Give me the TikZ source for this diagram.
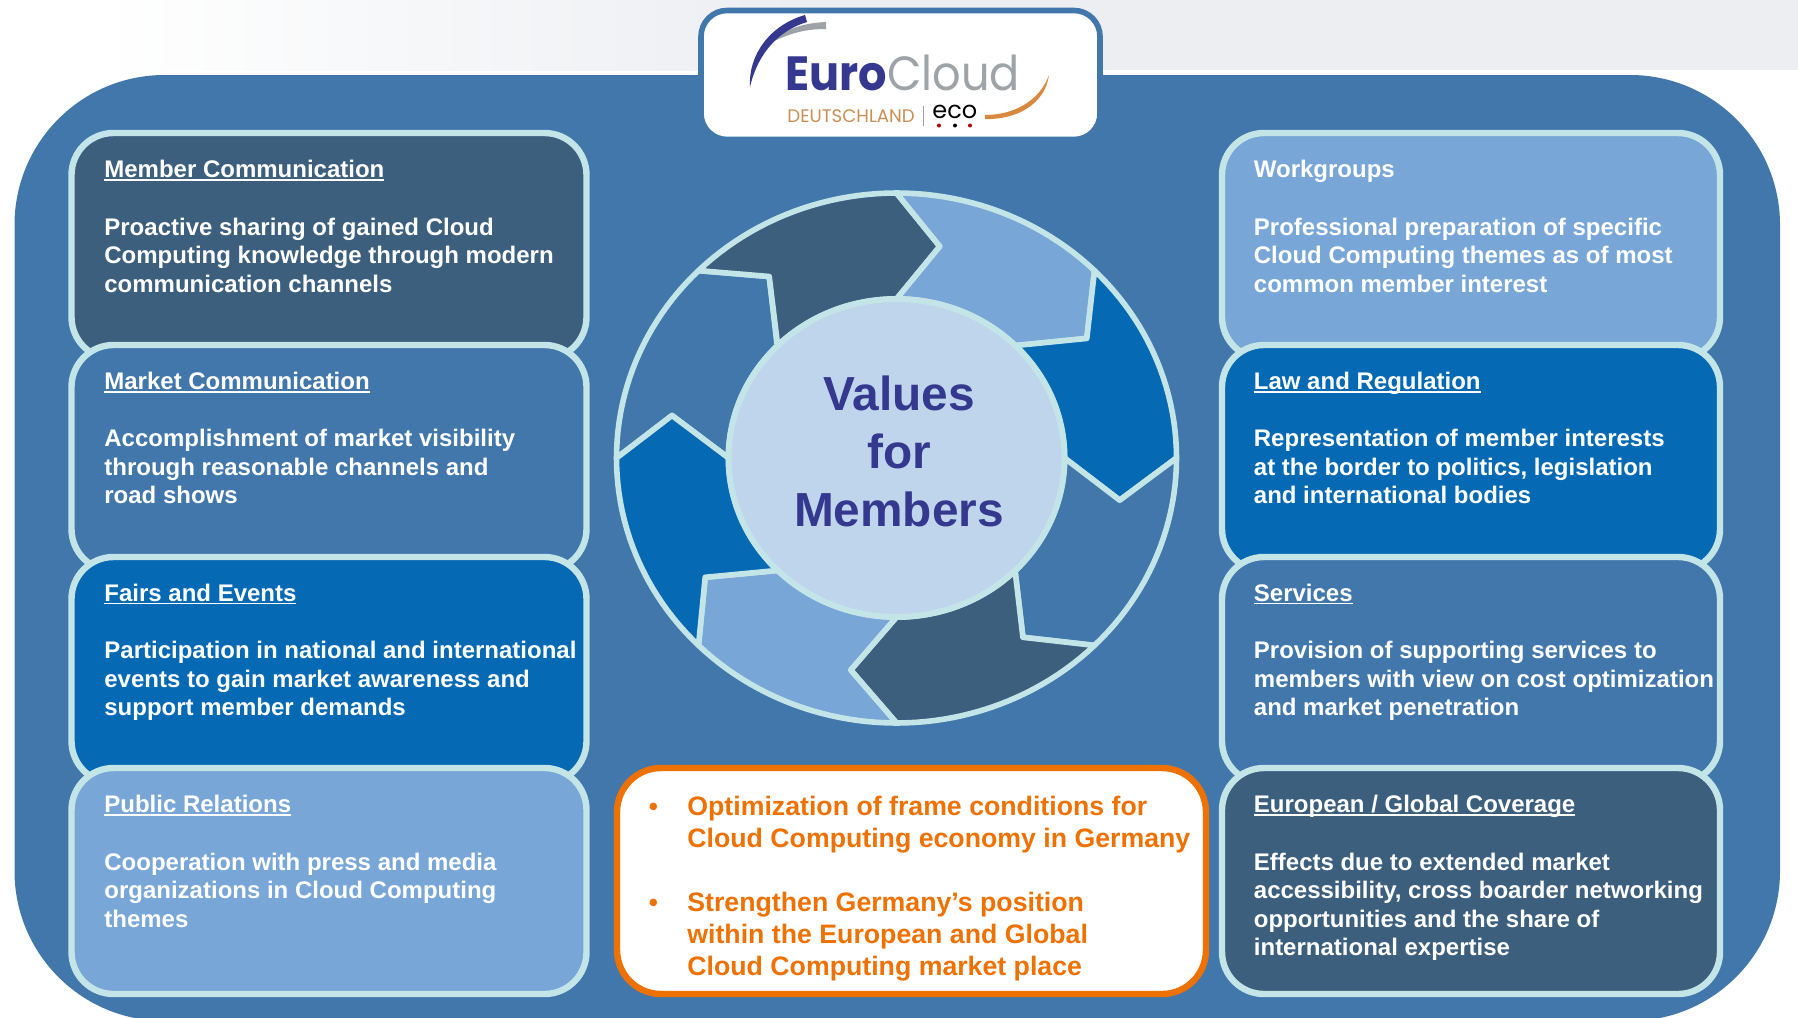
\documentclass[tikz,border=0pt]{standalone}
\usepackage{fontspec}
\setmainfont{Liberation Sans}
\newfontfamily\logofont{Poppins}
\usetikzlibrary{shapes.geometric}
\definecolor{cdark}{HTML}{3C5F7E}
\definecolor{cmid}{HTML}{4177AB}
\definecolor{cblue}{HTML}{0569B4}
\definecolor{clight}{HTML}{78A7D7}
\definecolor{cline}{HTML}{C3E5E8}
\definecolor{ccentre}{HTML}{BFD5EB}
\definecolor{cnavy}{HTML}{35388F}
\definecolor{corange}{HTML}{EE7203}
\definecolor{cgrey}{HTML}{ECEEF2}
\definecolor{clogogrey}{HTML}{9EA3A8}
\definecolor{clogotan}{HTML}{C98F55}
\definecolor{clogoorange}{HTML}{D9893F}
\newcommand\titleul[1]{\vtop{\hbox{\smash{#1}}\kern0.9pt\hrule height 0.7pt}}
% colour, start angle, end angle, points from outer end to inner end, points from inner start back to outer start
\newcommand\ringseg[5]{\draw[seg,fill=#1] plot[domain=#2:#3,samples=24] ({896.5+280*cos(\x)},{458+265*sin(\x)}) -- #4 -- plot[domain=#3:#2,samples=24] ({896.5+168*cos(\x)},{458+159*sin(\x)}) -- #5 -- cycle;}
\tikzset{
  panelbox/.style={draw=cline,line width=3.2pt,rounded corners=21pt,minimum height=113pt,inner sep=0pt},
  leftbox/.style={panelbox,minimum width=257.5pt},
  rightbox/.style={panelbox,minimum width=249pt},
  seg/.style={draw=cline,line width=2.8pt,line join=round},
  titletext/.style={anchor=base west,inner sep=0pt,text=white,font=\fontsize{12}{14.15}\selectfont\bfseries},
  bodytext/.style={anchor=north west,inner sep=0pt,align=left,text=white,font=\fontsize{12}{14.15}\selectfont\bfseries},
  goaltext/.style={anchor=north west,inner sep=0pt,align=left,text=corange,font=\fontsize{13.35}{16}\selectfont\bfseries},
  bullettext/.style={anchor=base,inner sep=0pt,text=corange,font=\fontsize{13}{16}\selectfont\bfseries},
}
\newcommand\firstline{\rule{0pt}{10pt}}
\begin{document}
\begin{tikzpicture}[x=0.5pt,y=-0.5pt]
\useasboundingbox (0,0) rectangle (1798,1017);
\fill[white] (0,0) rectangle (1798,1017);
\shade[left color=white,right color=cgrey] (100,0) rectangle (800,70);
\fill[cgrey] (800,0) rectangle (1798,70);
% panel
\begin{scope}
\clip (0,0) rectangle (1798,1017);
\fill[cmid,rounded corners=75pt] (14.5,75) -- (14.5,1021) -- (1780,1021) -- (1780,75) -- cycle;
\end{scope}
% logo card
\node[draw=cmid,fill=white,line width=2.8pt,rounded corners=13pt,minimum width=199.5pt,minimum height=64.5pt,inner sep=0pt] (logo) at (900.5,75) {};
% left boxes
\node[leftbox,fill=cdark] (b1) at (329,246) {};
\node[leftbox,fill=cmid] (b2) at (329,458) {};
\node[leftbox,fill=cblue] (b3) at (329,670) {};
\node[leftbox,fill=clight] (b4) at (329,881) {};
% right boxes
\node[rightbox,fill=clight] (b5) at (1471,246) {};
\node[rightbox,fill=cblue] (b6) at (1471,458) {};
\node[rightbox,fill=cmid] (b7) at (1471,670) {};
\node[rightbox,fill=cdark] (b8) at (1471,881) {};
% left text
\node[titletext] (t1) at (104,177.5) {\titleul{Member Communication}};
\node[bodytext] (d1) at (104,215) {\firstline Proactive sharing of gained Cloud\\Computing knowledge through modern\\communication channels};
\node[titletext] (t2) at (104,389.3) {\titleul{Market Communication}};
\node[bodytext] (d2) at (104,426.3) {\firstline Accomplishment of market visibility\\through reasonable channels and\\road shows};
\node[titletext] (t3) at (104,601.1) {\titleul{Fairs and Events}};
\node[bodytext] (d3) at (104,638.3) {\firstline Participation in national and international\\events to gain market awareness and\\support member demands};
\node[titletext] (t4) at (104,812.5) {\titleul{Public Relations}};
\node[bodytext] (d4) at (104,850) {\firstline Cooperation with press and media\\organizations in Cloud Computing\\themes};
% right text
\node[titletext] (t5) at (1253.5,177.5) {Workgroups};
\node[bodytext] (d5) at (1253.5,215) {\firstline Professional preparation of specific\\Cloud Computing themes as of most\\common member interest};
\node[titletext] (t6) at (1253.5,389.3) {\titleul{Law and Regulation}};
\node[bodytext] (d6) at (1253.5,426.3) {\firstline Representation of member interests\\at the border to politics, legislation\\and international bodies};
\node[titletext] (t7) at (1253.5,601.1) {\titleul{Services}};
\node[bodytext] (d7) at (1253.5,638.3) {\firstline Provision of supporting services to\\members with view on cost optimization\\and market penetration};
\node[titletext] (t8) at (1253.5,812.5) {\titleul{European / Global Coverage}};
\node[bodytext] (d8) at (1253.5,850) {\firstline Effects due to extended market\\accessibility, cross boarder networking\\opportunities and the share of\\international expertise};
% ring
\ringseg{cmid}{180}{225}{(769.2,276.5) -- (776.8,342.7)}{(672,415.5)}
\ringseg{cdark}{225}{270}{(939.8,246.4)}{(769.2,276.5)}
\ringseg{clight}{270}{315}{(1086.8,338.4)}{(939.8,246.4)}
\ringseg{cblue}{315}{360}{(1119.7,500.2)}{(1086.8,338.4)}
\ringseg{cmid}{0}{45}{(1022.9,637.3) -- (1015.2,571.8)}{(1119.7,500.2)}
\ringseg{cdark}{45}{90}{(850.7,670)}{(1015.2,571.8) -- (1022.9,637.3)}
\ringseg{clight}{90}{135}{(705.2,577.3)}{(850.7,670)}
\ringseg{cblue}{135}{180}{(672,415.5)}{(705.2,577.3)}
\node[ellipse,draw=cline,fill=ccentre,line width=3pt,minimum width=168pt,minimum height=159pt,inner sep=0pt] (centre) at (896.5,458) {};
\node[align=center,inner sep=0pt,text=cnavy,font=\fontsize{23.9}{29}\selectfont\bfseries] (centretext) at (899,451) {Values\\for\\Members};
% goals
\node[draw=corange,fill=white,line width=3.2pt,rounded corners=22pt,minimum width=294.5pt,minimum height=113pt,inner sep=0pt] (goals) at (911.5,881) {};
\node[bullettext] (g1b) at (653.5,815) {•};
\node[goaltext] (g1) at (687,795) {\rule{0pt}{10pt}Optimization of frame conditions for\\Cloud Computing economy in Germany};
\node[bullettext] (g2b) at (653.5,911.5) {•};
\node[goaltext] (g2) at (687,891.5) {\rule{0pt}{10pt}Strengthen Germany’s position\\within the European and Global\\Cloud Computing market place};
% logo artwork
\fill[clogogrey] (768,44) .. controls (785,28) and (805,23) .. (826,22) -- (826,29) .. controls (805,29) and (790,33) .. (768,44) -- cycle;
\fill[cnavy] (750,87) .. controls (748,55) and (770,25) .. (805,15) -- (807,22) .. controls (780,30) and (758,52) .. (750,87) -- cycle;
\fill[clogoorange] (985,115) .. controls (1015,115) and (1040,100) .. (1049,75) .. controls (1045,105) and (1015,120) .. (985,119) -- cycle;
\node[anchor=base west,inner sep=0pt,text=cnavy,xscale=0.93,font=\logofont\fontsize{24}{24}\selectfont] (eurocloud) at (785,90) {{\bfseries Euro}{\color{clogogrey}Cloud}};
\node[anchor=base west,inner sep=0pt,text=clogotan,font=\logofont\fontsize{9.1}{9}\selectfont] (land) at (787,122) {DEUTSCHLAND};
\node[anchor=base west,inner sep=0pt,text=black,font=\logofont\fontsize{12}{12}\selectfont] (eco) at (932,118.5) {eco};
\draw[clogogrey,line width=0.3pt] (923,106) -- (923,126);
\fill[red!70!black] (939,125.5) circle (2);
\fill[black] (955,125.5) circle (2);
\fill[red!70!black] (970,125.5) circle (2);
\end{tikzpicture}
\end{document}
